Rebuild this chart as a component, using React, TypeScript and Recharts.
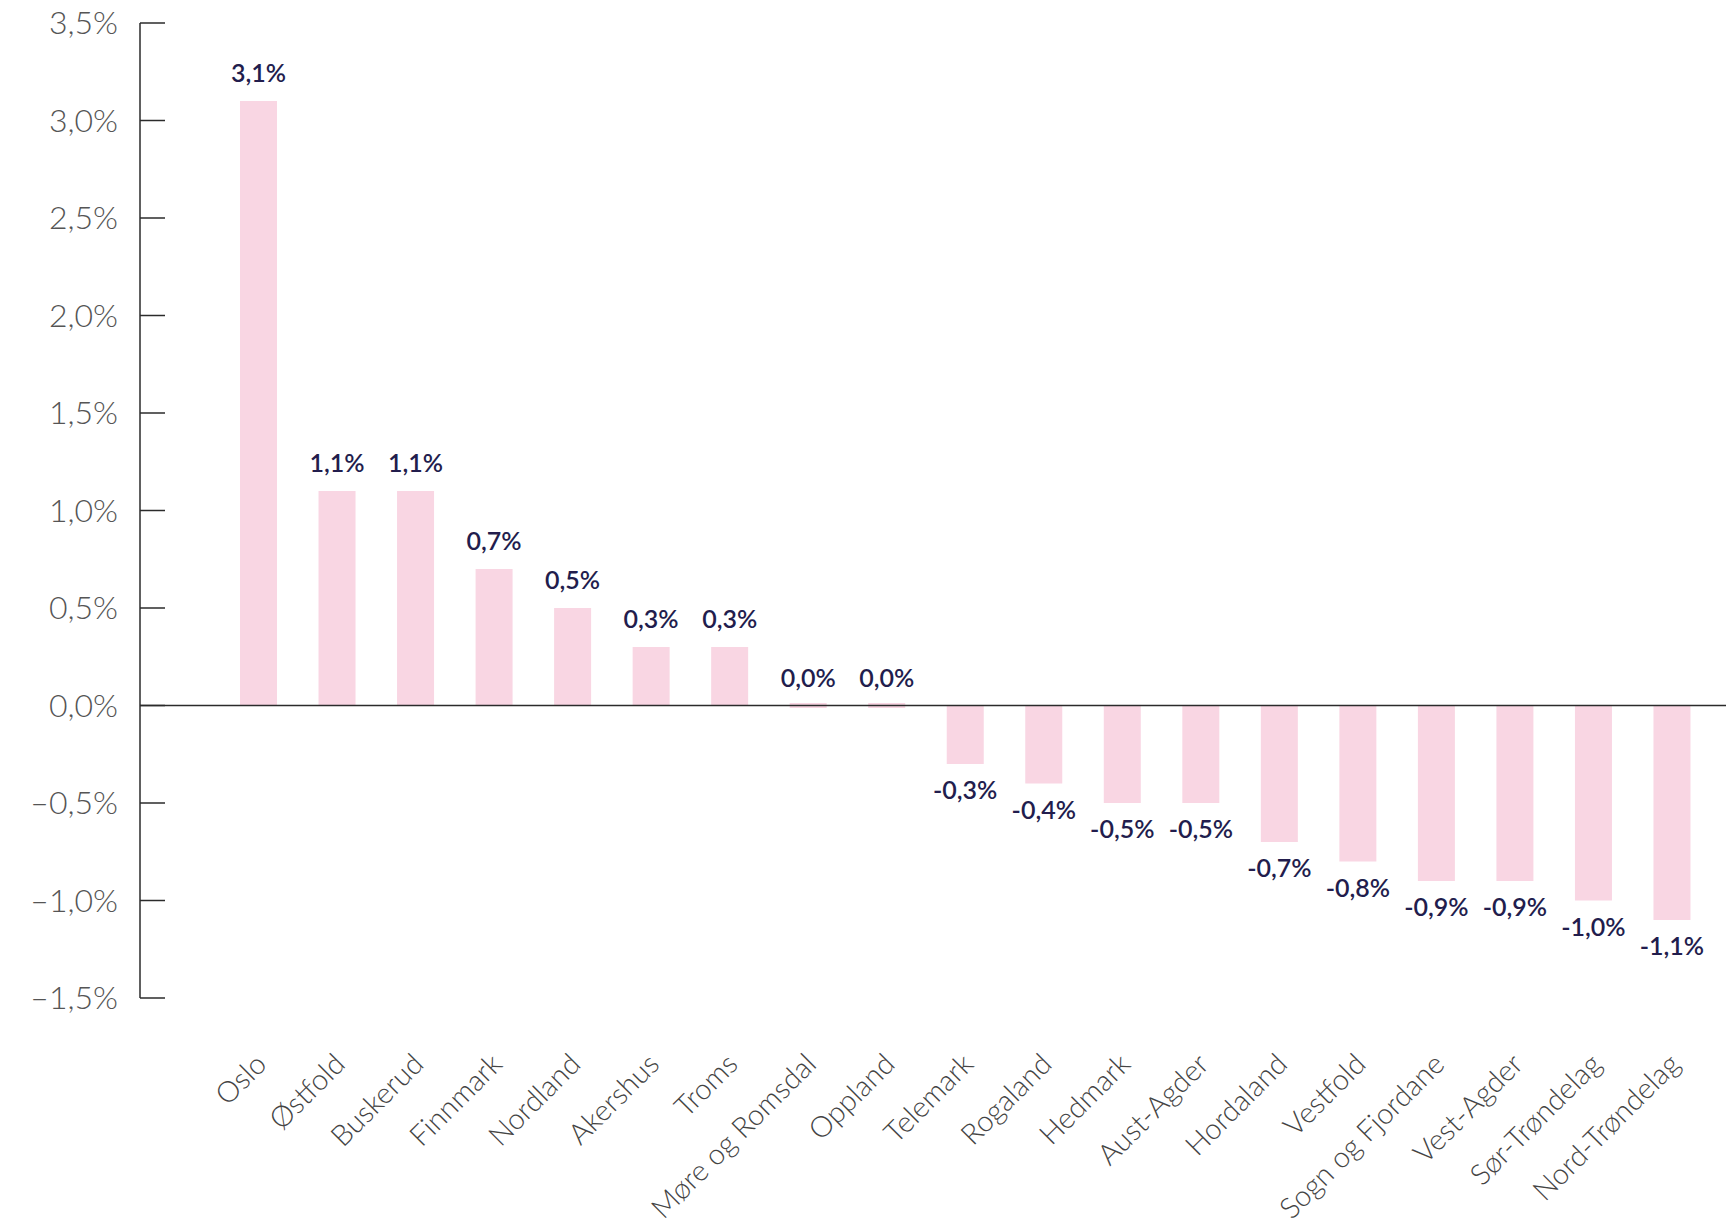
import { Bar, BarChart, LabelList, ReferenceLine, XAxis, YAxis } from "recharts";

const counties = [
  "Oslo", "Østfold", "Buskerud", "Finnmark", "Nordland", "Akershus", "Troms",
  "Møre og Romsdal", "Oppland", "Telemark", "Rogaland", "Hedmark", "Aust-Agder",
  "Hordaland", "Vestfold", "Sogn og Fjordane", "Vest-Agder", "Sør-Trøndelag", "Nord-Trøndelag",
];
const change = [3.1, 1.1, 1.1, 0.7, 0.5, 0.3, 0.3, 0.0, 0.0, -0.3, -0.4, -0.5, -0.5, -0.7, -0.8, -0.9, -0.9, -1.0, -1.1];
const yTicks = [-1.5, -1.0, -0.5, 0, 0.5, 1.0, 1.5, 2.0, 2.5, 3.0, 3.5];

const data = counties.map((name, i) => ({ name, value: change[i] }));

const pink = "#f9d6e3";
const navy = "#221d4d";
const axisColor = "#2b2b2b";
const font = "Lato, 'Open Sans', sans-serif";

const pct = (v: number) => {
  const s = Math.abs(v).toFixed(1).replace(".", ",") + "%";
  return v < 0 ? "–" + s : s;
};
const valuePct = (v: number) => {
  const s = Math.abs(v).toFixed(1).replace(".", ",") + "%";
  return v < 0 ? "-" + s : s;
};

function BarShape(props: any) {
  const { x, y, width, height } = props;
  const top = Math.min(y, y + height);
  const h = Math.abs(height);
  if (h < 1) {
    return <rect x={x} y={top - 2.5} width={width} height={5} fill={pink} />;
  }
  return <rect x={x} y={top} width={width} height={h} fill={pink} />;
}

function ValueLabel(props: any) {
  const { x, y, width, height, value } = props;
  const top = Math.min(y, y + height);
  const bottom = Math.max(y, y + height);
  const cx = x + width / 2;
  const below = value < 0;
  return (
    <text
      x={cx}
      y={below ? bottom + 17 : top - 19}
      dy={below ? "0.72em" : 0}
      textAnchor="middle"
      fill={navy}
      fontFamily={font}
      fontWeight={600}
      fontSize={25}
    >
      {valuePct(value)}
    </text>
  );
}

function CountyTick(props: any) {
  const { x, y, payload } = props;
  const tx = x + 10;
  const ty = y + 60;
  return (
    <text
      x={tx}
      y={ty}
      transform={`rotate(-45, ${tx}, ${ty})`}
      textAnchor="end"
      fill="#444"
      fontFamily={font}
      fontWeight={300}
      fontSize={29}
    >
      {payload.value}
    </text>
  );
}

export default function App() {
  return (
    <div style={{ width: 1726, height: 1228, background: "#fff" }}>
      <style>{`body{margin:0}`}</style>
      <BarChart width={1726} height={1228} data={data} margin={{ top: 23, right: 0, bottom: 0, left: 0 }}>
        <YAxis
          width={140}
          domain={[-1.5, 3.5]}
          ticks={yTicks}
          interval={0}
          tickFormatter={pct}
          axisLine={{ stroke: axisColor, strokeWidth: 1.5 }}
          tickLine={{ stroke: axisColor, strokeWidth: 1.5 }}
          tickSize={-25}
          tickMargin={47}
          tick={{ fill: "#555", fontFamily: font, fontWeight: 300, fontSize: 32 }}
        />
        <XAxis
          dataKey="name"
          height={230}
          interval={0}
          axisLine={false}
          tickLine={false}
          padding={{ left: 79, right: 15 }}
          tick={<CountyTick />}
        />
        <ReferenceLine y={0} stroke={axisColor} strokeWidth={1.5} />
        <Bar dataKey="value" barSize={37} fill={pink} shape={<BarShape />} isAnimationActive={false}>
          <LabelList dataKey="value" content={<ValueLabel />} />
        </Bar>
      </BarChart>
    </div>
  );
}
